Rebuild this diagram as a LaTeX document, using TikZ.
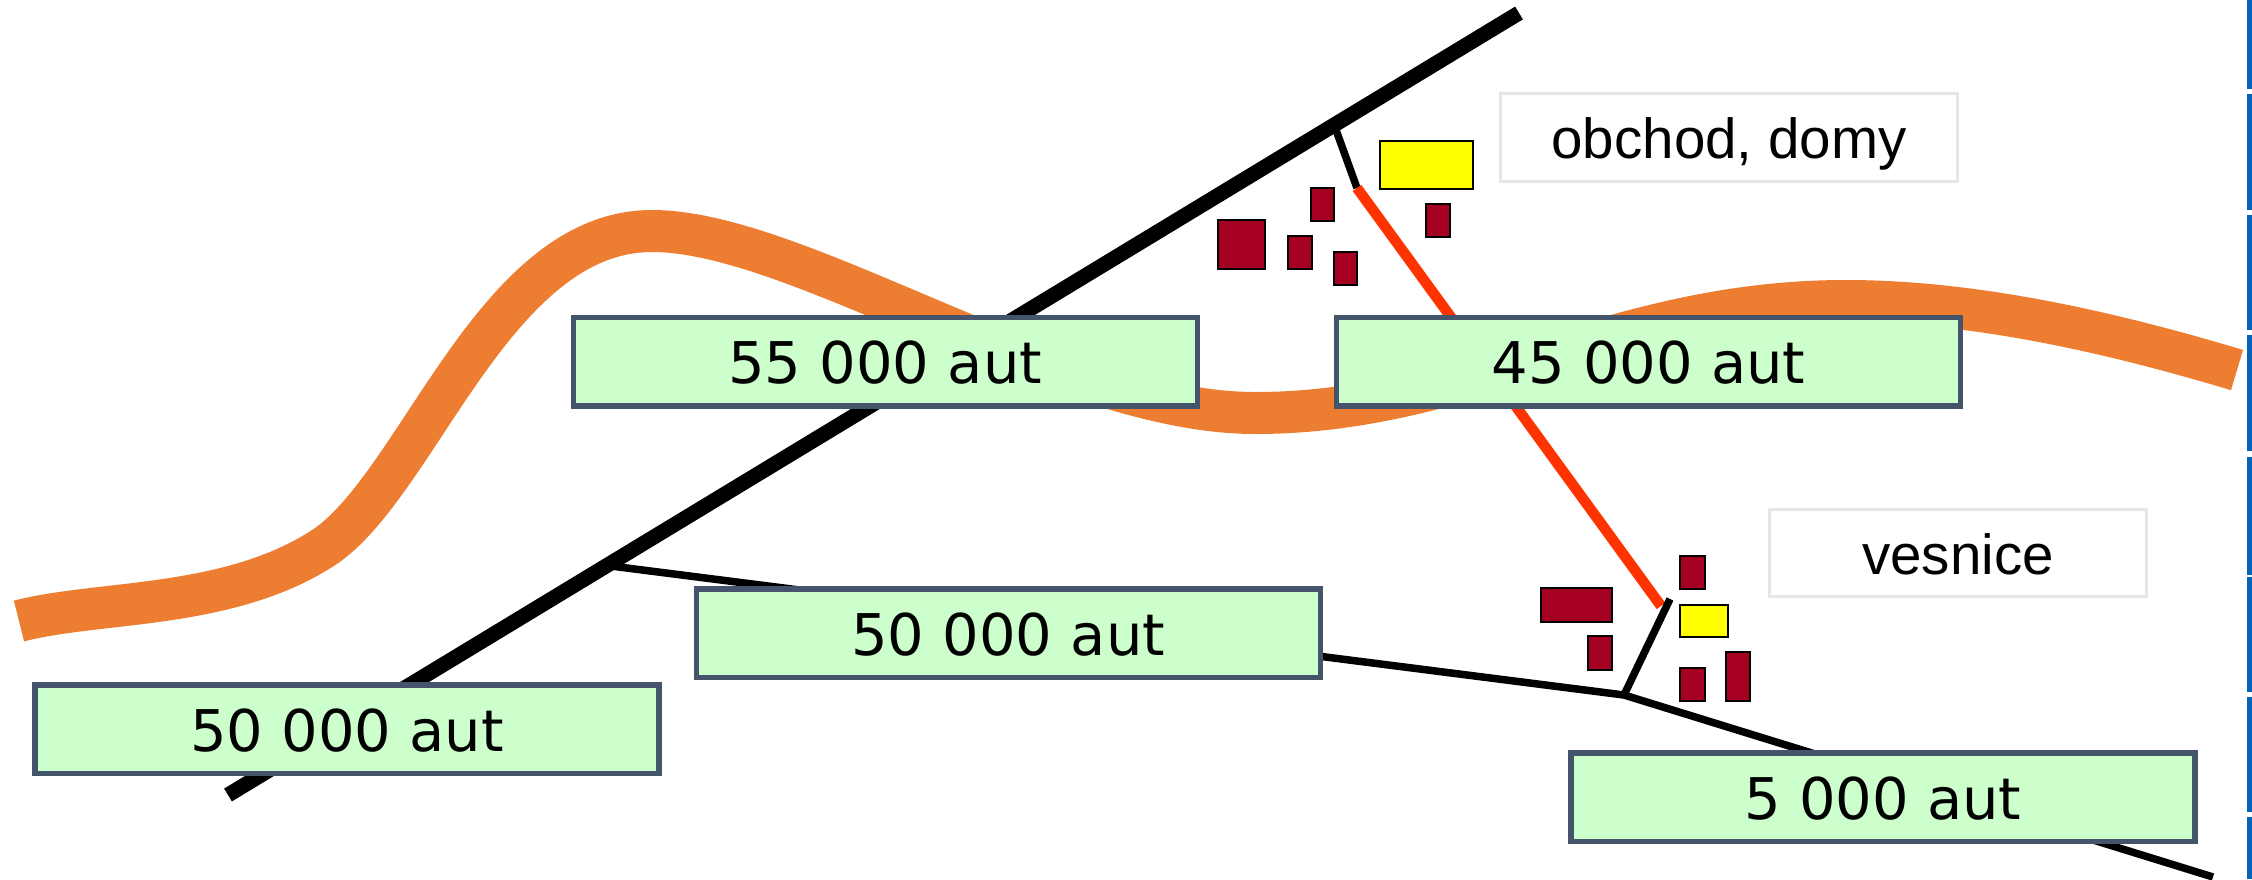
\documentclass[tikz,border=0pt]{standalone}
\usepackage{fontspec}
\setmainfont{Liberation Sans}
\newfontfamily\countfont{DejaVu Sans}
\definecolor{bandorange}{HTML}{ED7D31}
\definecolor{linkred}{HTML}{FF3300}
\definecolor{housered}{HTML}{A50021}
\definecolor{shopyellow}{HTML}{FFFF00}
\definecolor{boxedge}{HTML}{44546A}
\definecolor{boxfill}{HTML}{CCFFCC}
\definecolor{labeledge}{HTML}{E7E6E6}
\definecolor{sidebar}{HTML}{0563B9}
\tikzset{
  countbox/.style={draw=boxedge,fill=boxfill,line width=5.5pt,minimum width=624pt,minimum height=88.5pt,inner sep=0pt,outer sep=0pt,text height=44pt,text depth=0pt,font=\countfont\fontsize{57.5}{60}\selectfont},
  labelbox/.style={draw=labeledge,fill=white,line width=3pt,inner sep=0pt,outer sep=0pt,text depth=0pt,font=\fontsize{56.5}{60}\selectfont},
  house/.style={draw=black,fill=housered,line width=2pt},
  shop/.style={draw=black,fill=shopyellow,line width=2pt},
  motorway/.style={line width=15pt,black},
  minorroad/.style={line width=7.5pt,black},
  spur/.style={line width=7.5pt,black},
  newlink/.style={line width=10.5pt,linkred},
  bypass/.style={line width=42pt,bandorange},
  bar/.style={fill=sidebar}
}
\begin{document}
\begin{tikzpicture}[x=1pt,y=-1pt]
\useasboundingbox (0,0) rectangle (2252,879);
\fill[white] (0,0) rectangle (2252,879);
% side bars
\foreach \a/\b in {0/88.5,94/210,215/330,335/451,457/575,577/692,697/812,817/879}
  \fill[bar] (2247,\a) rectangle (2252,\b);
% coordinates
\coordinate (mwS) at (228,795);
\coordinate (mwN) at (1519,13);
\coordinate (j1) at (1336,130);
\coordinate (j2) at (1357,188);
\coordinate (j3) at (611,566);
\coordinate (j4) at (1624,695);
\coordinate (j5) at (2213,877);
\coordinate (j6) at (1670,599);
\coordinate (j7) at (1661,606);
% orange band
\draw[bypass] (19,621) .. controls (100,600) and (230,610) .. (326,546)
  .. controls (420,480) and (495,231) .. (652,231)
  .. controls (800,231) and (1060,413) .. (1255,413)
  .. controls (1470,413) and (1610,301) .. (1846,301)
  .. controls (1980,301) and (2120,335) .. (2237,370);
% roads
\draw[motorway] (mwS) -- (mwN);
\draw[spur] (j1) -- (j2);
\draw[newlink] (j2) -- (j7);
\draw[minorroad] (j3) -- (j4) -- (j5);
\draw[spur] (j4) -- (j6);
% buildings north
\draw[shop] (1380,141) rectangle (1472.5,189);
\draw[house] (1217.5,220) rectangle (1264.5,269);
\draw[house] (1311,188) rectangle (1334,221);
\draw[house] (1288,236) rectangle (1311.5,269);
\draw[house] (1333.5,252) rectangle (1357,285);
\draw[house] (1426,204) rectangle (1450,237);
% buildings south
\draw[house] (1680,556) rectangle (1704.5,589);
\draw[house] (1541,588) rectangle (1612,621.5);
\draw[shop] (1680,605) rectangle (1727.5,637);
\draw[house] (1588,636) rectangle (1612,670);
\draw[house] (1680,668) rectangle (1704.5,701);
\draw[house] (1726,652) rectangle (1750,701);
% count boxes
\node[countbox] (c55) at (885.25,361.5) {55 000 aut};
\node[countbox] (c45) at (1648.5,361.5) {45 000 aut};
\node[countbox] (c50m) at (1008.25,633.25) {50 000 aut};
\node[countbox] (c50l) at (347,729.25) {50 000 aut};
\node[countbox] (c5) at (1883,797) {5 000 aut};
% labels
\node[labelbox,minimum width=457pt,minimum height=88pt,text height=41pt] (lobchod) at (1729,137.5) {obchod, domy};
\node[labelbox,minimum width=377pt,minimum height=87pt,text height=42.6pt] (lvesnice) at (1958,553) {vesnice};
\end{tikzpicture}
\end{document}
